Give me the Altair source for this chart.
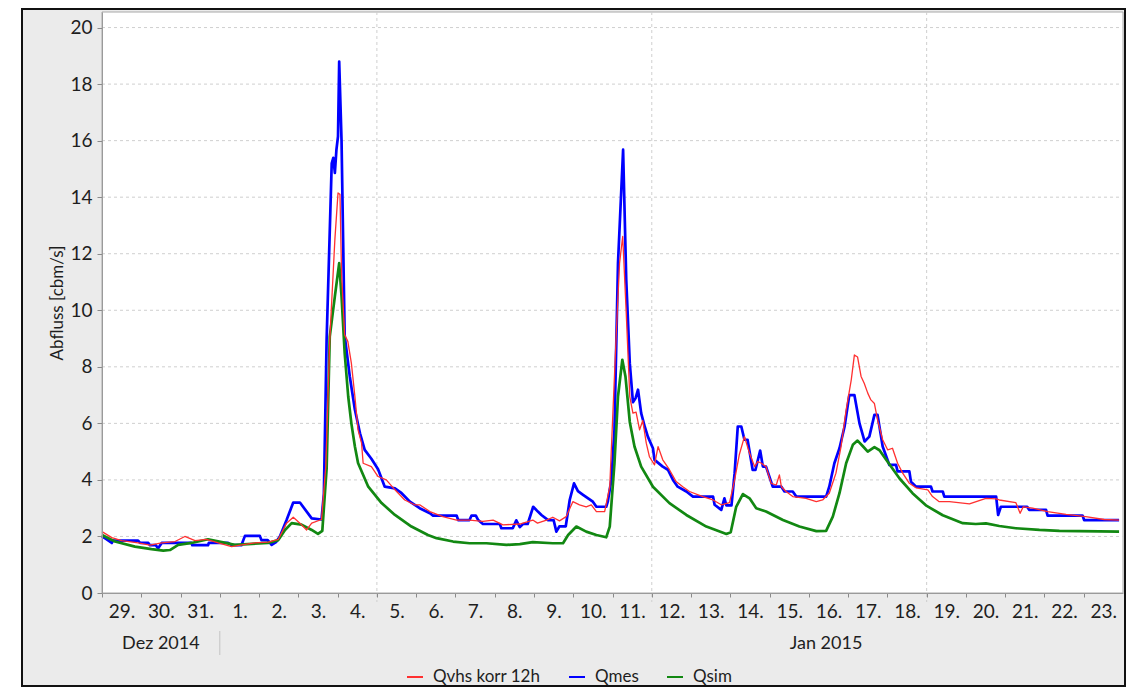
import altair as alt
import pandas as pd

# ---------------------------------------------------------------
# Data (time = days since 2014-12-29 00:00,
# value = discharge in m³/s)
# ---------------------------------------------------------------
qmes_t = [0.00, 0.12, 0.25, 0.28, 0.92, 0.97, 1.18, 1.22, 1.37, 1.43, 1.52, 2.28, 2.30, 2.70, 2.72,
          3.21, 3.30, 3.55, 3.64, 4.02, 4.06, 4.22, 4.32, 4.43, 4.53, 4.70, 4.87, 5.04, 5.34, 5.59,
          5.65, 5.72, 5.85, 5.89, 5.93, 5.97, 6.01, 6.04, 6.10, 6.14, 6.18, 6.31, 6.44, 6.57, 6.69,
          6.86, 7.03, 7.20, 7.46, 7.63, 7.84, 8.09, 8.35, 8.43, 9.03, 9.07, 9.36, 9.41, 9.52, 9.58,
          9.70, 10.13, 10.17, 10.46, 10.55, 10.64, 10.72, 10.84, 10.98, 11.10, 11.19, 11.36, 11.50,
          11.57, 11.65, 11.81, 11.91, 12.02, 12.12, 12.25, 12.50, 12.59, 12.84, 12.88, 12.97, 13.05,
          13.14, 13.27, 13.35, 13.44, 13.52, 13.59, 13.65, 13.73, 13.82, 13.90, 14.03, 14.07, 14.28,
          14.41, 14.54, 14.66, 14.88, 15.05, 15.56, 15.60, 15.77, 15.85, 15.90, 16.03, 16.11, 16.19,
          16.28, 16.36, 16.44, 16.57, 16.64, 16.76, 16.83, 16.91, 17.08, 17.30, 17.38, 17.59, 17.68,
          18.44, 18.52, 18.65, 18.78, 18.91, 19.03, 19.16, 19.29, 19.42, 19.54, 19.67, 19.75, 19.88,
          20.05, 20.22, 20.26, 20.56, 20.60, 20.73, 21.11, 21.15, 21.41, 21.45, 22.77, 22.82, 22.89,
          23.56, 23.61, 24.04, 24.08, 24.97, 25.01, 25.90]
qmes_v = [2.00, 1.90, 1.77, 1.85, 1.85, 1.77, 1.77, 1.69, 1.69, 1.58, 1.77, 1.77, 1.69, 1.69, 1.77,
          1.77, 1.69, 1.69, 2.02, 2.02, 1.87, 1.87, 1.70, 1.80, 2.00, 2.58, 3.20, 3.20, 2.64, 2.60,
          3.50, 8.96, 15.20, 15.39, 14.86, 15.68, 16.15, 18.80, 16.00, 12.50, 9.10, 7.66, 6.48, 5.65, 5.06,
          4.75, 4.38, 3.76, 3.70, 3.53, 3.23, 3.00, 2.82, 2.74, 2.74, 2.58, 2.58, 2.74, 2.74, 2.58,
          2.44, 2.44, 2.29, 2.29, 2.57, 2.33, 2.44, 2.44, 3.05, 2.88, 2.76, 2.58, 2.58,
          2.17, 2.36, 2.36, 3.29, 3.88, 3.60, 3.47, 3.23, 3.05, 3.05, 3.23, 4.00, 5.77,
          11.67, 15.68, 11.08, 8.13, 6.75, 6.90, 7.19, 6.36, 5.89, 5.53, 5.12, 4.71, 4.47,
          4.36, 4.00, 3.76, 3.59, 3.41, 3.41, 3.12, 2.94, 3.35, 3.10, 3.10, 4.24, 5.89,
          5.89, 5.42, 5.42, 4.35, 4.35, 5.04, 4.47, 4.47, 3.76, 3.76, 3.59, 3.59, 3.41,
          3.41, 3.76, 4.59, 5.12, 5.89, 7.00, 7.00, 6.00, 5.36, 5.53, 6.30, 6.30, 5.18,
          4.53, 4.53, 4.30, 4.30, 3.94, 3.76, 3.76, 3.59, 3.59, 3.41, 3.41, 2.76, 3.05,
          3.05, 2.94, 2.94, 2.74, 2.74, 2.58, 2.58]

qvhs_t = [0.00, 0.25, 0.50, 0.92, 1.22, 1.52, 1.86, 2.11, 2.37, 2.66, 2.96, 3.30, 3.64, 3.89, 4.23,
          4.49, 4.70, 4.87, 5.04, 5.21, 5.34, 5.59, 5.70, 5.80, 5.93, 6.01, 6.06, 6.10, 6.18, 6.26,
          6.35, 6.44, 6.52, 6.61, 6.65, 6.86, 7.03, 7.24, 7.46, 7.71, 7.96, 8.09, 8.35, 8.68, 9.03,
          9.36, 9.70, 9.96, 10.21, 10.64, 10.97, 11.09, 11.32, 11.48, 11.65, 11.82, 11.99, 12.16,
          12.33, 12.46, 12.59, 12.80, 12.93, 13.10, 13.18, 13.26, 13.35, 13.44, 13.52, 13.60, 13.69,
          13.77, 13.86, 13.94, 14.07, 14.16, 14.28, 14.45, 14.62, 14.79, 14.96, 15.30, 15.56, 15.77,
          15.98, 16.11, 16.23, 16.36, 16.49, 16.62, 16.70, 16.79, 16.91, 17.04, 17.17, 17.25, 17.30,
          17.42, 17.59, 17.93, 18.19, 18.35, 18.52, 18.69, 18.82, 18.95, 19.08, 19.16, 19.24, 19.33,
          19.41, 19.50, 19.58, 19.67, 19.75, 19.88, 20.01, 20.13, 20.26, 20.39, 20.56, 20.73, 21.03,
          21.15, 21.32, 21.58, 21.92, 22.09, 22.51, 22.77, 22.85, 23.27, 23.38, 23.46, 23.70, 24.08,
          24.55, 25.05, 25.52, 25.90]
qvhs_v = [2.17, 1.96, 1.85, 1.77, 1.69, 1.77, 1.82, 2.00, 1.85, 1.90, 1.77, 1.64, 1.72, 1.77, 1.80,
          1.90, 2.47, 2.68, 2.47, 2.23, 2.47, 2.60, 4.50, 8.96, 12.50, 14.15, 14.10, 11.30, 9.13, 8.90,
          8.13, 6.95, 5.77, 5.30, 4.59, 4.47, 4.12, 4.00, 3.65, 3.29, 3.12, 3.12, 2.88, 2.70, 2.58,
          2.58, 2.53, 2.58, 2.41, 2.44, 2.58, 2.47, 2.58, 2.68, 2.55, 2.70, 3.23, 3.12,
          3.05, 3.12, 2.88, 2.88, 3.76, 9.30, 11.67, 12.61, 9.90, 6.95, 6.36, 6.40, 5.77,
          6.10, 5.30, 4.82, 4.53, 5.18, 4.71, 4.36, 3.94, 3.76, 3.59, 3.41, 3.29, 3.12,
          3.20, 4.00, 4.90, 5.53, 4.94, 4.47, 4.65, 4.59, 4.47, 3.88, 3.82, 4.18, 3.76,
          3.59, 3.41, 3.35, 3.23, 3.29, 3.53, 4.24, 5.18, 6.48, 7.54, 8.42, 8.35, 7.66,
          7.42, 7.07, 6.83, 6.70, 6.12, 5.42, 5.06, 5.12, 4.59, 4.24, 3.88, 3.72, 3.65,
          3.41, 3.23, 3.23, 3.18, 3.15, 3.35, 3.33, 3.29, 3.20, 2.82, 3.05, 3.00, 2.88,
          2.78, 2.70, 2.60, 2.58]

qsim_t = [0.00, 0.33, 0.84, 1.26, 1.56, 1.73, 1.94, 2.28, 2.70, 3.05, 3.38, 3.82, 4.23, 4.49, 4.66,
          4.83, 5.08, 5.34, 5.50, 5.61, 5.72, 5.80, 5.93, 6.04, 6.10, 6.18, 6.27, 6.35, 6.44, 6.52,
          6.78, 7.12, 7.46, 7.88, 8.30, 8.52, 8.94, 9.36, 9.79, 10.30, 10.64, 10.97, 11.48, 11.74,
          11.87, 12.08, 12.33, 12.59, 12.84, 12.93, 13.05, 13.14, 13.25, 13.33, 13.44, 13.56, 13.73,
          14.03, 14.45, 14.88, 15.39, 15.90, 16.01, 16.15, 16.32, 16.49, 16.66, 16.91, 17.34, 17.76,
          18.19, 18.44, 18.61, 18.78, 18.95, 19.12, 19.24, 19.37, 19.50, 19.67, 19.80, 19.97, 20.31,
          20.64, 20.98, 21.41, 21.92, 22.25, 22.51, 22.85, 23.27, 23.87, 24.38, 25.90]
qsim_v = [2.05, 1.82, 1.64, 1.55, 1.50, 1.52, 1.70, 1.77, 1.90, 1.80, 1.70, 1.74, 1.77, 1.87, 2.23,
          2.47, 2.42, 2.23, 2.09, 2.20, 4.40, 9.07, 10.49, 11.67, 10.49, 8.48, 6.95, 6.00, 5.18, 4.60,
          3.76, 3.18, 2.76, 2.35, 2.05, 1.94, 1.82, 1.76, 1.76, 1.70, 1.73, 1.80, 1.76, 1.76,
          2.05, 2.35, 2.17, 2.05, 1.97, 2.35, 4.59, 6.95, 8.25, 7.66, 6.05, 5.18, 4.47,
          3.76, 3.18, 2.76, 2.35, 2.09, 2.15, 3.05, 3.50, 3.35, 3.00, 2.88, 2.58, 2.35,
          2.19, 2.20, 2.70, 3.53, 4.59, 5.24, 5.39, 5.20, 5.00, 5.16, 5.05, 4.71, 4.05,
          3.53, 3.10, 2.75, 2.47, 2.44, 2.46, 2.37, 2.29, 2.23, 2.20, 2.17]

series_names = ["Qvhs korr 12h", "Qmes", "Qsim"]
series_colors = ["#ff3030", "#0000ff", "#128812"]

y_ticks = [0, 2, 4, 6, 8, 10, 12, 14, 16, 18, 20]
week_lines = ["2015-01-05", "2015-01-12", "2015-01-19"]
month_labels = ["Dez 2014", "Jan 2015"]
month_label_at = ["2014-12-30T12:00:00", "2015-01-16T10:30:00"]
month_bounds = ["2015-01-01"]
first_day = "2014-12-29"
last_day = "2015-01-23"

FONT = "Lato"
TXT = "#1e1e1e"
W, H = 1021, 581

start = pd.Timestamp(first_day)


def series_frame(name, t, v):
    ts = [(start + pd.Timedelta(days=d)).strftime("%Y-%m-%dT%H:%M:%S") for d in t]
    return pd.DataFrame({"time": ts, "q": v, "series": name})


def dt(s):
    p = pd.Timestamp(s)
    return alt.DateTime(year=p.year, month=p.month, date=p.day)


day_ticks = [dt(d) for d in pd.date_range(first_day, last_day, freq="D")]

x_scale = alt.Scale(domain=[dt(first_day), dt(pd.Timestamp(last_day) + pd.Timedelta(days=1))])
y_scale = alt.Scale(domain=[0, 20.55], nice=False, zero=True)

x_axis = alt.Axis(values=day_ticks, format="%-d.", labelOffset=19.6, labelAlign="center",
                  labelFontSize=19, labelFont=FONT, labelColor=TXT, labelPadding=5,
                  labelOverlap=False, labelFlush=False, labelBound=False,
                  tickSize=4, tickColor="#8a8a8a", domainColor="#9a9a9a",
                  grid=False, title=None, zindex=1)
y_axis = alt.Axis(values=y_ticks, labelFontSize=19, labelFont=FONT, labelColor=TXT,
                  labelPadding=5, tickSize=5, tickColor="#8a8a8a", domainColor="#9a9a9a",
                  grid=False, title="Abfluss [cbm/s]", titleFont=FONT, titleFontSize=17,
                  titleFontWeight="normal", titleColor=TXT, titleX=-45, titleBaseline="middle",
                  zindex=1)

X = alt.X("time:T", scale=x_scale, axis=x_axis)
Y = alt.Y("q:Q", scale=y_scale, axis=y_axis)

one = alt.Data(values=[{"k": 1}])

# outer frame (grey panel with black border)
frame = alt.Chart(one).mark_rect(fill="#ebebeb", stroke="#111111", strokeWidth=2).encode(
    x=alt.value(-80), x2=alt.value(W + 2), y=alt.value(-3), y2=alt.value(674))

# white plot area
plot_bg = alt.Chart(one).mark_rect(fill="white", stroke="#a8a8a8", strokeWidth=1).encode(
    x=alt.value(0), x2=alt.value(W), y=alt.value(0), y2=alt.value(H))

grid_h = alt.Chart(pd.DataFrame({"q": y_ticks[1:]})).mark_rule(
    color="#cfcfcf", strokeDash=[3, 3], strokeWidth=1).encode(
    y=Y, x=alt.value(0), x2=alt.value(W))

grid_v = alt.Chart(pd.DataFrame({"time": week_lines})).mark_rule(
    color="#cfcfcf", strokeDash=[3, 3], strokeWidth=1).encode(
    x=X, y=alt.value(0), y2=alt.value(H + 9))

month_sep = alt.Chart(pd.DataFrame({"time": month_bounds})).mark_rule(
    color="#c4c4c4", strokeWidth=1).encode(
    x=X, y=alt.value(H + 38), y2=alt.value(H + 62))

month_text = alt.Chart(pd.DataFrame({"time": month_label_at, "label": month_labels})).mark_text(
    font=FONT, fontSize=18, color=TXT, align="center", baseline="middle").encode(
    x=X, y=alt.value(H + 51), text="label:N")

color = alt.Color("series:N",
                  scale=alt.Scale(domain=series_names, range=series_colors),
                  legend=alt.Legend(title=None, orient="none", legendX=304, legendY=656,
                                    direction="horizontal", symbolType="stroke",
                                    symbolStrokeWidth=2, symbolSize=256,
                                    labelFont=FONT, labelFontSize=17, labelColor=TXT,
                                    labelOffset=9, columnPadding=24, padding=0, zindex=1))


def line(name, t, v, width):
    return alt.Chart(series_frame(name, t, v)).mark_line(
        strokeWidth=width, strokeJoin="round", interpolate="linear").encode(
        x=X, y=Y, color=color)


l_mes = line("Qmes", qmes_t, qmes_v, 2.7)
l_sim = line("Qsim", qsim_t, qsim_v, 2.7)
l_vhs = line("Qvhs korr 12h", qvhs_t, qvhs_v, 1.3)

chart = alt.layer(frame, plot_bg, grid_h, grid_v, month_sep, month_text,
                  l_mes, l_sim, l_vhs).properties(
    width=W, height=H,
    autosize=alt.AutoSizeParams(type="none"),
    padding={"left": 94, "top": 4, "right": 4, "bottom": 94},
    background="white",
).configure_view(strokeWidth=0)

chart.save("out.html", embed_options={"renderer": "svg", "actions": False})
